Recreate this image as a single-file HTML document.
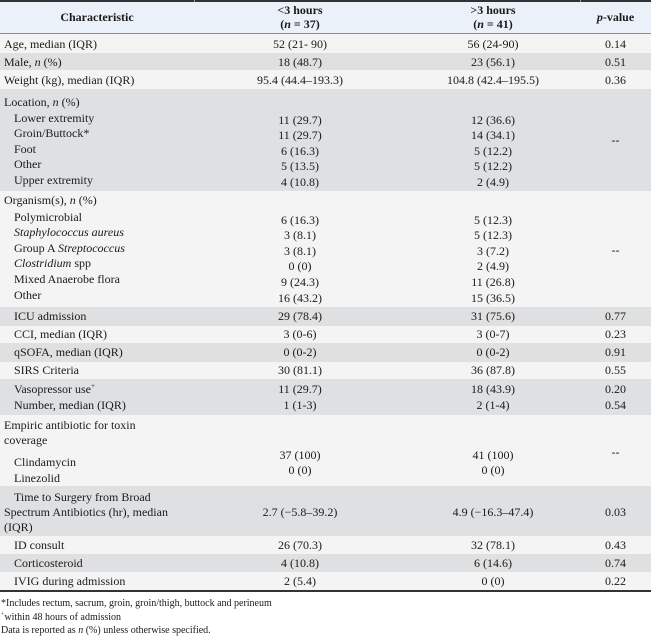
<!DOCTYPE html>
<html><head><meta charset="utf-8"><style>
html,body{margin:0;padding:0;background:#fff;}
body{width:651px;height:635px;position:relative;overflow:hidden;font-family:"Liberation Serif",serif;font-size:12px;color:#1a1a1a;}
.bg{position:absolute;left:0;width:651px;}
.t{position:absolute;height:14px;line-height:14px;white-space:nowrap;}
.c2{left:194px;width:212px;text-align:center;}
.c3{left:406px;width:174px;text-align:center;}
.c4{left:580px;width:71px;text-align:center;}
.l{left:4px;}
.s{left:14px;}
.b{font-weight:bold;}
.f{font-size:10px;left:1px;}
.g{background:#dfe0e2;}
.w{background:#f4f4f4;}
</style></head><body>
<div class="bg" style="top:0;height:2px;background:#333;"></div>
<div class="bg" style="top:2px;height:31px;background:#eaf1f9;"></div>
<div style="position:absolute;left:194px;top:0;width:1px;height:2px;background:#999;"></div>
<div style="position:absolute;left:580px;top:0;width:1px;height:2px;background:#999;"></div>
<div class="bg" style="top:33px;height:1px;background:#8a8f96;"></div>
<div class="t b" style="top:10px;left:0;width:194px;text-align:center;">Characteristic</div>
<div class="t b c2" style="top:3px;">&lt;3 hours</div>
<div class="t b c2" style="top:17px;">(<i>n</i> = 37)</div>
<div class="t b c3" style="top:3px;">&gt;3 hours</div>
<div class="t b c3" style="top:17px;">(<i>n</i> = 41)</div>
<div class="t b c4" style="top:10px;"><i>p</i>-value</div>

<div class="bg w" style="top:34px;height:19px;"></div>
<div class="bg g" style="top:53px;height:17px;"></div>
<div class="bg w" style="top:70px;height:19px;"></div>
<div class="bg g" style="top:89px;height:102px;"></div>
<div class="bg w" style="top:191px;height:116px;"></div>
<div class="bg g" style="top:307px;height:19px;"></div>
<div class="bg w" style="top:326px;height:17px;"></div>
<div class="bg g" style="top:343px;height:19px;"></div>
<div class="bg w" style="top:362px;height:17px;"></div>
<div class="bg g" style="top:379px;height:36px;"></div>
<div class="bg w" style="top:415px;height:71px;"></div>
<div class="bg g" style="top:486px;height:50px;"></div>
<div class="bg w" style="top:536px;height:18px;"></div>
<div class="bg g" style="top:554px;height:18px;"></div>
<div class="bg w" style="top:572px;height:18px;"></div>
<div class="bg" style="top:590px;height:2px;background:#333;"></div>

<div class="t l" style="top:37px;">Age, median (IQR)</div><div class="t c2" style="top:37px;">52 (21- 90)</div><div class="t c3" style="top:37px;">56 (24-90)</div><div class="t c4" style="top:37px;">0.14</div>
<div class="t l" style="top:55px;">Male, <i>n</i> (%)</div><div class="t c2" style="top:55px;">18 (48.7)</div><div class="t c3" style="top:55px;">23 (56.1)</div><div class="t c4" style="top:55px;">0.51</div>
<div class="t l" style="top:73px;">Weight (kg), median (IQR)</div><div class="t c2" style="top:73px;">95.4 (44.4–193.3)</div><div class="t c3" style="top:73px;">104.8 (42.4–195.5)</div><div class="t c4" style="top:73px;">0.36</div>

<div class="t l" style="top:95px;">Location, <i>n</i> (%)</div>
<div class="t s" style="top:111px;">Lower extremity</div><div class="t c2" style="top:113px;">11 (29.7)</div><div class="t c3" style="top:113px;">12 (36.6)</div>
<div class="t s" style="top:126px;">Groin/Buttock*</div><div class="t c2" style="top:128px;">11 (29.7)</div><div class="t c3" style="top:128px;">14 (34.1)</div>
<div class="t s" style="top:142px;">Foot</div><div class="t c2" style="top:144px;">6 (16.3)</div><div class="t c3" style="top:144px;">5 (12.2)</div>
<div class="t s" style="top:157px;">Other</div><div class="t c2" style="top:159px;">5 (13.5)</div><div class="t c3" style="top:159px;">5 (12.2)</div>
<div class="t s" style="top:173px;">Upper extremity</div><div class="t c2" style="top:175px;">4 (10.8)</div><div class="t c3" style="top:175px;">2 (4.9)</div>
<div class="t c4" style="top:133px;">--</div>

<div class="t l" style="top:193px;">Organism(s), <i>n</i> (%)</div>
<div class="t s" style="top:210px;">Polymicrobial</div><div class="t c2" style="top:213px;">6 (16.3)</div><div class="t c3" style="top:213px;">5 (12.3)</div>
<div class="t s" style="top:225px;"><i>Staphylococcus aureus</i></div><div class="t c2" style="top:228px;">3 (8.1)</div><div class="t c3" style="top:228px;">5 (12.3)</div>
<div class="t s" style="top:241px;">Group A <i>Streptococcus</i></div><div class="t c2" style="top:244px;">3 (8.1)</div><div class="t c3" style="top:244px;">3 (7.2)</div>
<div class="t s" style="top:256px;"><i>Clostridium</i> spp</div><div class="t c2" style="top:259px;">0 (0)</div><div class="t c3" style="top:259px;">2 (4.9)</div>
<div class="t s" style="top:272px;">Mixed Anaerobe flora</div><div class="t c2" style="top:275px;">9 (24.3)</div><div class="t c3" style="top:275px;">11 (26.8)</div>
<div class="t s" style="top:288px;">Other</div><div class="t c2" style="top:291px;">16 (43.2)</div><div class="t c3" style="top:291px;">15 (36.5)</div>
<div class="t c4" style="top:243px;">--</div>

<div class="t s" style="top:309px;">ICU admission</div><div class="t c2" style="top:309px;">29 (78.4)</div><div class="t c3" style="top:309px;">31 (75.6)</div><div class="t c4" style="top:309px;">0.77</div>
<div class="t s" style="top:327px;">CCI, median (IQR)</div><div class="t c2" style="top:327px;">3 (0-6)</div><div class="t c3" style="top:327px;">3 (0-7)</div><div class="t c4" style="top:327px;">0.23</div>
<div class="t s" style="top:345px;">qSOFA, median (IQR)</div><div class="t c2" style="top:345px;">0 (0-2)</div><div class="t c3" style="top:345px;">0 (0-2)</div><div class="t c4" style="top:345px;">0.91</div>
<div class="t s" style="top:363px;">SIRS Criteria</div><div class="t c2" style="top:363px;">30 (81.1)</div><div class="t c3" style="top:363px;">36 (87.8)</div><div class="t c4" style="top:363px;">0.55</div>
<div class="t s" style="top:382px;">Vasopressor use<sup style="font-size:7px;line-height:0;">+</sup></div><div class="t c2" style="top:382px;">11 (29.7)</div><div class="t c3" style="top:382px;">18 (43.9)</div><div class="t c4" style="top:382px;">0.20</div>
<div class="t s" style="top:398px;">Number, median (IQR)</div><div class="t c2" style="top:398px;">1 (1-3)</div><div class="t c3" style="top:398px;">2 (1-4)</div><div class="t c4" style="top:398px;">0.54</div>

<div class="t l" style="top:418px;">Empiric antibiotic for toxin</div>
<div class="t l" style="top:433px;">coverage</div>
<div class="t s" style="top:455px;">Clindamycin</div>
<div class="t s" style="top:471px;">Linezolid</div>
<div class="t c2" style="top:448px;">37 (100)</div><div class="t c3" style="top:448px;">41 (100)</div>
<div class="t c2" style="top:463px;">0 (0)</div><div class="t c3" style="top:463px;">0 (0)</div>
<div class="t c4" style="top:445px;">--</div>

<div class="t s" style="top:490px;">Time to Surgery from Broad</div>
<div class="t l" style="top:505px;">Spectrum Antibiotics (hr), median</div>
<div class="t l" style="top:520px;">(IQR)</div>
<div class="t c2" style="top:505px;">2.7 (−5.8–39.2)</div><div class="t c3" style="top:505px;">4.9 (−16.3–47.4)</div><div class="t c4" style="top:505px;">0.03</div>

<div class="t s" style="top:538px;">ID consult</div><div class="t c2" style="top:538px;">26 (70.3)</div><div class="t c3" style="top:538px;">32 (78.1)</div><div class="t c4" style="top:538px;">0.43</div>
<div class="t s" style="top:556px;">Corticosteroid</div><div class="t c2" style="top:556px;">4 (10.8)</div><div class="t c3" style="top:556px;">6 (14.6)</div><div class="t c4" style="top:556px;">0.74</div>
<div class="t s" style="top:574px;">IVIG during admission</div><div class="t c2" style="top:574px;">2 (5.4)</div><div class="t c3" style="top:574px;">0 (0)</div><div class="t c4" style="top:574px;">0.22</div>

<div class="t f" style="top:597px;">*Includes rectum, sacrum, groin, groin/thigh, buttock and perineum</div>
<div class="t f" style="top:611px;"><sup style="font-size:6px;line-height:0;">+</sup>within 48 hours of admission</div>
<div class="t f" style="top:624px;">Data is reported as <i>n</i> (%) unless otherwise specified.</div>
</body></html>
